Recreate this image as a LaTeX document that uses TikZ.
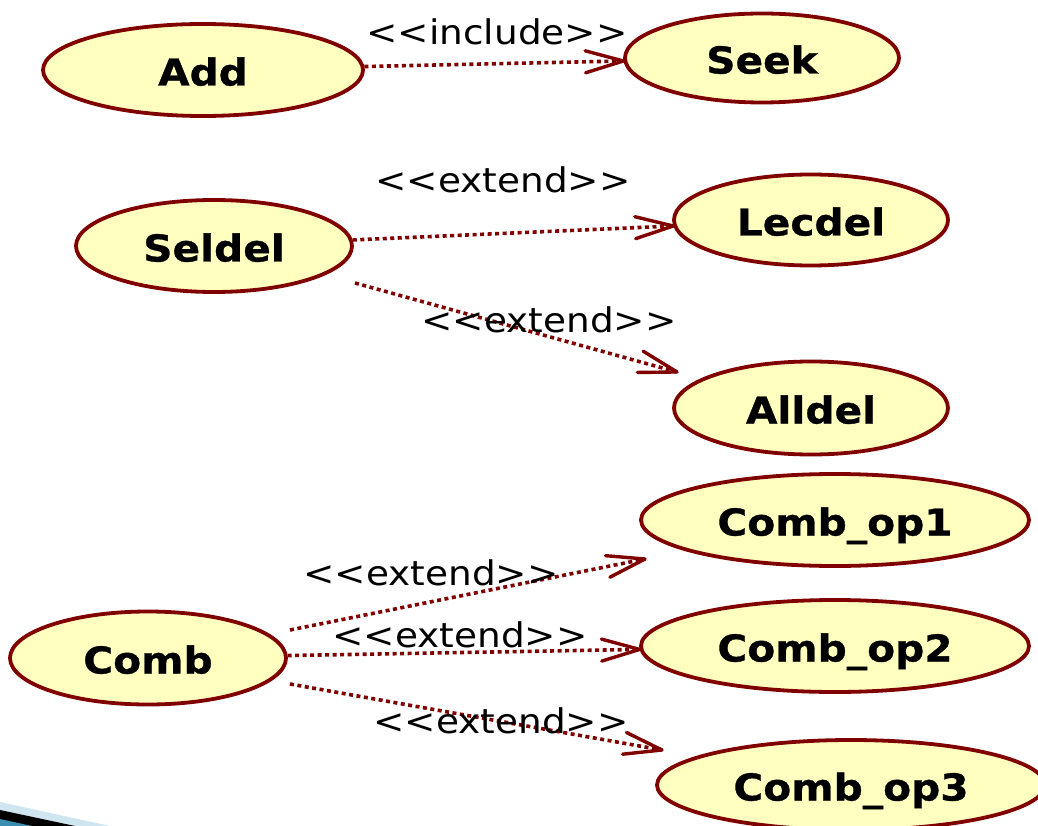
\documentclass[tikz,border=0pt]{standalone}
\usepackage{fontspec}
\setmainfont{DejaVu Sans}
\newfontfamily\labfont{DejaVu Sans}[FakeStretch=1.1]
\newfontfamily\ucfont{DejaVu Sans Bold}[FakeStretch=1.1, FakeBold=0.8]
\usetikzlibrary{shapes.geometric,decorations.markings}
\definecolor{ucfill}{HTML}{FFFFC0}
\definecolor{ucline}{HTML}{800000}
\definecolor{deco}{HTML}{CFE6F0}
\definecolor{decob}{HTML}{3A8FB0}
\tikzset{
  usecase/.style={ellipse, draw=ucline, fill=ucfill, line width=3.8pt, inner sep=0pt,
    text height=31pt, text depth=0pt, font=\ucfont\fontsize{37}{37}\selectfont},
  rel/.style={draw=ucline, line width=3.6pt, dash pattern=on 4pt off 3.5pt,
    postaction={decorate},
    decoration={markings, mark=at position 1 with {
      \draw[solid, ucline, line width=3.4pt, line join=round, line cap=round]
        (-38pt,11pt) -- (0pt,0pt) -- (-38pt,-11pt);}}},
  lbl/.style={anchor=base, inner sep=0pt, font=\labfont\fontsize{34}{34}\selectfont}
}
\begin{document}
\begin{tikzpicture}[x=1pt,y=-1pt]
\useasboundingbox (0,0) rectangle (1038,826);
% slide decoration bottom-left
\fill[deco] (0,802) -- (110,826) -- (0,826) -- cycle;
\fill[black] (0,810) -- (75,826) -- (0,826) -- cycle;
\fill[decob] (0,819) -- (32,826) -- (0,826) -- cycle;
% use cases
\node[usecase, minimum width=320pt, minimum height=92pt] (add) at (203,70) {Add};
\node[usecase, minimum width=274pt, minimum height=89pt] (seek) at (762,58) {Seek};
\node[usecase, minimum width=276pt, minimum height=92pt] (seldel) at (214,246) {Seldel};
\node[usecase, minimum width=274pt, minimum height=91pt] (lecdel) at (811,220) {Lecdel};
\node[usecase, minimum width=274pt, minimum height=93pt] (alldel) at (811,408) {Alldel};
\node[usecase, minimum width=388pt, minimum height=92pt] (op1) at (835,520) {Comb\_op1};
\node[usecase, minimum width=388pt, minimum height=92pt] (op2) at (835,646) {Comb\_op2};
\node[usecase, minimum width=276pt, minimum height=93pt] (comb) at (148,658) {Comb};
\node[usecase, minimum width=388pt, minimum height=90pt] (op3) at (851,785) {Comb\_op3};
% free ends
\coordinate (s2) at (355,283);
\coordinate (a2) at (677,372);
\coordinate (c1) at (290,630);
\coordinate (o1) at (645,559);
\coordinate (c3) at (290,684);
\coordinate (o3) at (662,750);
% connectors
\draw[rel] (add) -- (seek);
\draw[rel] (seldel) -- (lecdel);
\draw[rel] (s2) -- (a2);
\draw[rel] (c1) -- (o1);
\draw[rel] (comb) -- (op2);
\draw[rel] (c3) -- (o3);
% labels
\node[lbl] (l1) at (497,45) {<<include>>};
\node[lbl] (l2) at (503,193) {<<extend>>};
\node[lbl] (l3) at (549,332) {<<extend>>};
\node[lbl] (l4) at (431,585) {<<extend>>};
\node[lbl] (l5) at (460,647) {<<extend>>};
\node[lbl] (l6) at (501,733) {<<extend>>};
\end{tikzpicture}
\end{document}
